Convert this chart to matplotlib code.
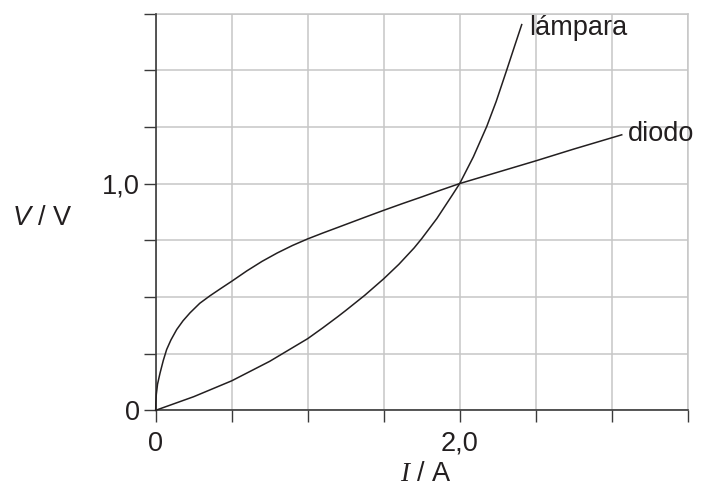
import matplotlib
matplotlib.use("Agg")
import matplotlib.pyplot as plt

# Data
diode_I = [0.0, 0.001, 0.004, 0.012, 0.0285, 0.05, 0.072, 0.10, 0.138, 0.18, 0.226,
           0.29, 0.357, 0.43, 0.5, 0.6, 0.7, 0.8, 0.9, 1.0, 1.1, 1.2, 1.375, 1.5,
           1.625, 1.75, 1.875, 2.0, 2.25, 2.5, 2.75, 3.066]
diode_V = [0.0, 0.035, 0.07, 0.115, 0.164, 0.22, 0.268, 0.31, 0.356, 0.395, 0.43,
           0.472, 0.505, 0.538, 0.569, 0.615, 0.657, 0.694, 0.727, 0.756, 0.782, 0.807,
           0.851, 0.882, 0.912, 0.941, 0.971, 1.0, 1.05, 1.10, 1.152, 1.215]

lamp_I = [0.0, 0.25, 0.5, 0.75, 1.0, 1.1, 1.2, 1.25, 1.375, 1.5, 1.6, 1.7, 1.75,
          1.85, 1.95, 2.0, 2.09, 2.178, 2.24, 2.309, 2.36, 2.408]
lamp_V = [0.0, 0.06, 0.13, 0.216, 0.316, 0.364, 0.414, 0.44, 0.507, 0.58, 0.644,
          0.716, 0.757, 0.846, 0.948, 1.0, 1.118, 1.252, 1.362, 1.50, 1.604, 1.701]

x_ticks = [0.0, 0.5, 1.0, 1.5, 2.0, 2.5, 3.0, 3.5]
x_tick_labels = ["0", "", "", "", "2,0", "", "", ""]
y_ticks = [0.0, 0.25, 0.5, 0.75, 1.0, 1.25, 1.5, 1.75]
y_tick_labels = ["0", "", "", "", "1,0", "", "", ""]

plt.rcParams['font.family'] = ['Liberation Sans', 'DejaVu Sans']
plt.rcParams['mathtext.fontset'] = 'custom'
plt.rcParams['mathtext.it'] = 'Liberation Serif:italic'
plt.rcParams['mathtext.sf'] = 'Liberation Sans:italic'
plt.rcParams['mathtext.rm'] = 'Liberation Sans'

fs = 19.5
dark = '#231f20'
grid_c = '#c6c6c6'

fig = plt.figure(figsize=(7.02, 4.87), dpi=100)
ax = fig.add_axes([155.7 / 702, 1 - 410.3 / 487, (687.7 - 155.7) / 702, (410.3 - 13.5) / 487])

ax.set_xlim(0, 3.5)
ax.set_ylim(0, 1.75)
ax.set_xticks(x_ticks)
ax.set_xticklabels(x_tick_labels)
ax.set_yticks(y_ticks)
ax.set_yticklabels(y_tick_labels)
ax.grid(True, color=grid_c, linewidth=1.1)
ax.set_axisbelow(True)

for s in ['top', 'right']:
    ax.spines[s].set_color(grid_c)
    ax.spines[s].set_linewidth(1.1)
for s in ['left', 'bottom']:
    ax.spines[s].set_color('#3a3a3a')
    ax.spines[s].set_linewidth(1.2)
    ax.spines[s].set_zorder(3)

ax.tick_params(axis='both', direction='out', length=8.6, width=1.0, color='#3a3a3a',
               labelsize=fs, labelcolor=dark)
ax.tick_params(axis='x', pad=6)
ax.tick_params(axis='y', pad=3)

ax.plot(diode_I, diode_V, color=dark, linewidth=1.1, zorder=4, clip_on=False,
        solid_joinstyle='round')
ax.plot(lamp_I, lamp_V, color=dark, linewidth=1.1, zorder=4, clip_on=False,
        solid_joinstyle='round')

ax.text(3.108, 1.186, "diodo", fontsize=fs, color=dark, ha='left', va='baseline')
ax.text(2.456, 1.657, "lámpara", fontsize=fs, color=dark, ha='left', va='baseline')

fig.text(426 / 702, 1 - 474 / 487, r"$\mathit{I}$ / A", fontsize=fs, color=dark,
         ha='center', va='center')
fig.text(42 / 702, 1 - 218 / 487, r"$\mathsf{V}$ / V", fontsize=fs, color=dark,
         ha='center', va='center')

fig.savefig("out.png", dpi=100)
